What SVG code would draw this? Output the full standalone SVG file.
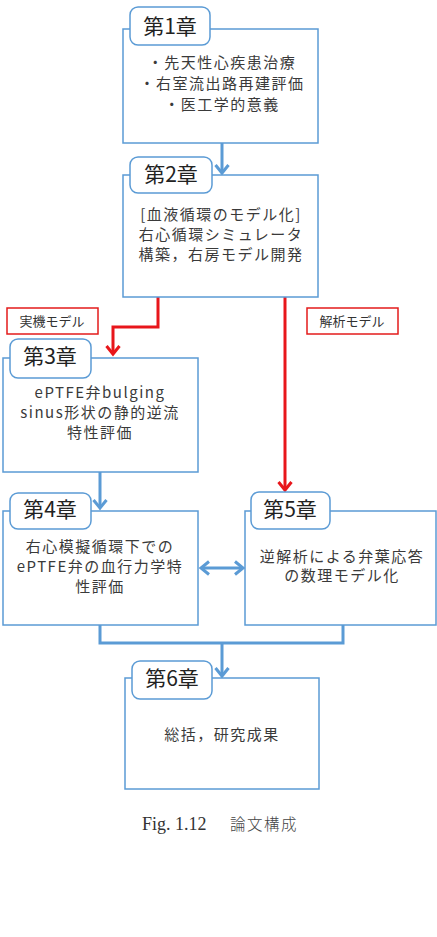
<svg xmlns="http://www.w3.org/2000/svg" width="437" height="937" viewBox="0 0 437 937">
<style>
.box{fill:#fff;stroke:#5b9bd5;stroke-width:1.5}
.tab{fill:#fff;stroke:#5b9bd5;stroke-width:1.5}
.t{font-family:"Noto Sans CJK JP","Noto Sans",sans-serif;fill:#3a3a3a;text-anchor:middle;font-size:15px;letter-spacing:1.5px}
.h{font-family:"Noto Sans CJK JP","Noto Sans",sans-serif;fill:#222;text-anchor:middle;font-size:21px}
.lb{font-family:"Noto Sans CJK JP","Noto Sans",sans-serif;fill:#333;text-anchor:middle;font-size:13px}
.lbox{fill:#fff;stroke:#e31b1b;stroke-width:1.5}
.cb{fill:none;stroke:#5b9bd5;stroke-width:3}
.cr{fill:none;stroke:#e8161b;stroke-width:3}
.cap{font-family:"Liberation Serif",serif;fill:#333;font-size:18px}
.capj{font-family:"Noto Sans CJK JP",sans-serif;fill:#444;font-size:15.5px;letter-spacing:1.5px;font-weight:300}
</style>
<defs>
<marker id="ab" markerWidth="16" markerHeight="16" refX="12" refY="8" orient="auto-start-reverse" markerUnits="userSpaceOnUse"><path d="M4,1.5 L12,8 L4,14.5" fill="none" stroke="#5b9bd5" stroke-width="3"/></marker>
<marker id="ar" markerWidth="16" markerHeight="16" refX="12" refY="8" orient="auto" markerUnits="userSpaceOnUse"><path d="M4,1.5 L12,8 L4,14.5" fill="none" stroke="#e8161b" stroke-width="3"/></marker>
</defs>
<g id="connectors">
<path class="cb" d="M222,143 V173" marker-end="url(#ab)"/>
<path class="cr" d="M158,297 V327 H113 V354" marker-end="url(#ar)"/>
<path class="cr" d="M285,297 V490" marker-end="url(#ar)"/>
<path class="cb" d="M100,472 V508" marker-end="url(#ab)"/>
<path class="cb" d="M201,568 H243" marker-start="url(#ab)" marker-end="url(#ab)"/>
<path class="cb" d="M100,625 V643 H343 V625 M222,643 V676" marker-end="url(#ab)"/>
</g>
<g id="ch1">
<rect class="box" x="123" y="29" width="195" height="114"/>
<rect class="tab" x="130" y="7" width="80" height="38" rx="8"/>
<text class="h" x="170" y="34">第1章</text>
<text class="t" x="222" y="68">・先天性心疾患治療</text>
<text class="t" x="222" y="89">・右室流出路再建評価</text>
<text class="t" x="222" y="110">・医工学的意義</text>
</g>
<g id="ch2">
<rect class="box" x="123" y="175" width="195" height="122"/>
<rect class="tab" x="130" y="157" width="82" height="36" rx="8"/>
<text class="h" x="171" y="182">第2章</text>
<text class="t" x="221" y="220">[血液循環のモデル化]</text>
<text class="t" x="221" y="240">右心循環シミュレータ</text>
<text class="t" x="221" y="260">構築，右房モデル開発</text>
</g>
<g id="label-real">
<rect class="lbox" x="7" y="308" width="91" height="26"/>
<text class="lb" x="52" y="326">実機モデル</text>
</g>
<g id="label-analysis">
<rect class="lbox" x="307" y="308" width="91" height="26"/>
<text class="lb" x="352" y="326">解析モデル</text>
</g>
<g id="ch3">
<rect class="box" x="3" y="358" width="195" height="114"/>
<rect class="tab" x="10" y="339" width="81" height="39" rx="8"/>
<text class="h" x="50" y="364">第3章</text>
<text class="t" x="100" y="398">ePTFE弁bulging</text>
<text class="t" x="100" y="418">sinus形状の静的逆流</text>
<text class="t" x="100" y="438">特性評価</text>
</g>
<g id="ch4">
<rect class="box" x="3" y="511" width="195" height="114"/>
<rect class="tab" x="10" y="493" width="81" height="36" rx="8"/>
<text class="h" x="50" y="517">第4章</text>
<text class="t" x="100" y="552">右心模擬循環下での</text>
<text class="t" x="100" y="572">ePTFE弁の血行力学特</text>
<text class="t" x="100" y="592">性評価</text>
</g>
<g id="ch5">
<rect class="box" x="245" y="511" width="191" height="114"/>
<rect class="tab" x="251" y="492" width="79" height="37" rx="8"/>
<text class="h" x="290" y="517">第5章</text>
<text class="t" x="342" y="562">逆解析による弁葉応答</text>
<text class="t" x="342" y="581">の数理モデル化</text>
</g>
<g id="ch6">
<rect class="box" x="125" y="678" width="194" height="111"/>
<rect class="tab" x="132" y="661" width="80" height="38" rx="8"/>
<text class="h" x="172" y="686">第6章</text>
<text class="t" x="222" y="740">総括，研究成果</text>
</g>
<g id="caption">
<text class="cap" x="142" y="830">Fig. 1.12</text>
<text class="capj" x="230" y="830">論文構成</text>
</g>
</svg>
